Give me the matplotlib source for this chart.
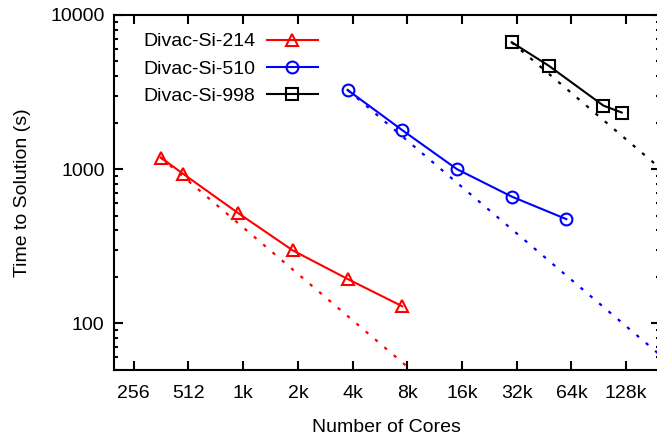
import matplotlib
matplotlib.use("Agg")
import matplotlib.pyplot as plt
from matplotlib.ticker import FixedLocator, NullLocator, LogLocator, FixedFormatter

plt.rcParams['font.family'] = ['Liberation Sans', 'DejaVu Sans']
plt.rcParams['font.size'] = 14

# cores / time to solution (s)
cores_214 = [360, 480, 960, 1920, 3840, 7680]
time_214 = [1190, 930, 519, 297, 194, 129]

cores_510 = [3840, 7680, 15360, 30720, 61440]
time_510 = [3266, 1791, 1000, 664, 474]

cores_998 = [30720, 49152, 98304, 124000]
time_998 = [6654, 4688, 2583, 2328]

xticks = [256, 512, 1024, 2048, 4096, 8192, 16384, 32768, 65536, 131072]
xlabels = ['256', '512', '1k', '2k', '4k', '8k', '16k', '32k', '64k', '128k']

xmin, xmax = 200, 200000
ymin, ymax = 50, 10000

fig = plt.figure(figsize=(6.57, 4.34), dpi=100)
ax = fig.add_axes([114.3 / 657, 1 - 369.7 / 434, (659.5 - 114.3) / 657, (369.7 - 15) / 434])

series = [
    (cores_214, time_214, 'Divac-Si-214', '#ff0000', '^'),
    (cores_510, time_510, 'Divac-Si-510', '#0000ff', 'o'),
    (cores_998, time_998, 'Divac-Si-998', 'black', 's'),
]

for n, t, name, col, mk in series:
    ax.plot(n, t, color=col, lw=1.5, marker=mk, ms=8.5, mfc='none', mew=1.5,
            label=name, zorder=3)
    # ideal scaling from the first point
    nn = [n[0], xmax * 2]
    ideal = [t[0] * n[0] / v for v in nn]
    ax.plot(nn, ideal, color=col, lw=1.6, ls=(0, (1.5, 4.0)), zorder=2)

ax.set_xscale('log', base=2)
ax.set_yscale('log')
ax.set_xlim(xmin, xmax)
ax.set_ylim(ymin, ymax)

ax.xaxis.set_major_locator(FixedLocator(xticks))
ax.xaxis.set_major_formatter(FixedFormatter(xlabels))
ax.xaxis.set_minor_locator(NullLocator())
ax.yaxis.set_major_locator(FixedLocator([100, 1000, 10000]))
ax.yaxis.set_major_formatter(FixedFormatter(['100', '1000', '10000']))
ax.yaxis.set_minor_locator(LogLocator(base=10, subs=range(2, 10)))

ax.tick_params(which='both', direction='in', top=True, right=True, width=1.5)
ax.tick_params(which='major', length=6.5)
ax.tick_params(which='minor', length=3.2)
ax.tick_params(axis='x', pad=11)
ax.tick_params(axis='y', pad=7)
for s in ax.spines.values():
    s.set_linewidth(1.5)

ax.set_xlabel('Number of Cores', labelpad=12.5)
ax.set_ylabel('Time to Solution (s)', labelpad=14)

ax.legend(loc='upper left', bbox_to_anchor=(0.053, 0.95), frameon=False,
          markerfirst=False, handlelength=2.6, handletextpad=0.6,
          labelspacing=0.5, borderpad=0, borderaxespad=0)

fig.savefig('out.png', dpi=100)
